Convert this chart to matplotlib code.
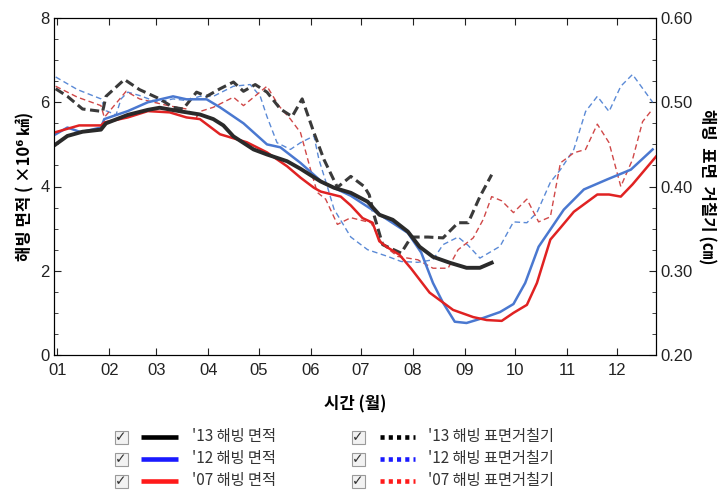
import matplotlib
matplotlib.use("Agg")
import matplotlib.pyplot as plt
from matplotlib.lines import Line2D
from matplotlib.patches import Rectangle
from matplotlib.ticker import MultipleLocator

plt.rcParams['font.family'] = ['Noto Sans CJK KR', 'DejaVu Sans']

# day of year of each month start, and its label
month_days = [1, 32, 60, 91, 121, 152, 182, 213, 244, 274, 305, 335]
month_labels = ['01', '02', '03', '04', '05', '06', '07', '08', '09', '10', '11', '12']

# sea ice area (x10^6 km2)
area13_day = [0, 7, 16, 27, 30, 43, 55, 62, 75, 86, 94, 100, 106, 118, 126, 138, 146,
              158, 166, 176, 186, 193, 201, 210, 217, 225, 235, 245, 253, 260]
area13_val = [5.0, 5.2, 5.3, 5.35, 5.5, 5.7, 5.82, 5.87, 5.78, 5.71, 5.6, 5.45, 5.19, 4.88,
              4.76, 4.6, 4.42, 4.12, 3.97, 3.85, 3.64, 3.33, 3.21, 2.93, 2.57, 2.33, 2.19,
              2.07, 2.07, 2.19]

area12_day = [0, 7, 15, 27, 29, 43, 55, 70, 78, 90, 98, 112, 126, 134, 146, 159, 176, 186,
              198, 210, 218, 225, 231, 238, 245, 255, 265, 273, 280, 288, 295, 303, 315, 329,
              343, 356]
area12_val = [5.24, 5.4, 5.29, 5.4, 5.6, 5.79, 6.0, 6.14, 6.07, 6.07, 5.88, 5.5, 5.0, 4.93,
              4.56, 4.1, 3.78, 3.52, 3.21, 2.9, 2.43, 1.71, 1.24, 0.79, 0.76, 0.88, 1.02, 1.21,
              1.71, 2.57, 2.98, 3.45, 3.93, 4.17, 4.4, 4.88]

area07_day = [0, 14, 27, 29, 43, 55, 68, 78, 86, 98, 114, 126, 138, 146, 154, 158, 170, 176,
              183, 189, 193, 198, 205, 212, 223, 237, 249, 257, 266, 273, 281, 287, 295, 301,
              309, 323, 330, 337, 344, 358]
area07_val = [5.29, 5.45, 5.45, 5.52, 5.64, 5.79, 5.76, 5.64, 5.6, 5.24, 5.05, 4.81, 4.48,
              4.21, 3.97, 3.88, 3.76, 3.55, 3.25, 3.14, 2.7, 2.55, 2.38, 2.05, 1.48, 1.07, 0.9,
              0.83, 0.81, 1.0, 1.19, 1.71, 2.74, 3.02, 3.4, 3.81, 3.81, 3.76, 4.05, 4.71]

# sea ice surface roughness (cm)
rough13_day = [0, 7, 16, 28, 30, 41, 50, 62, 70, 76, 84, 90, 98, 106, 112, 119, 126, 134,
               141, 147, 154, 160, 168, 176, 184, 187, 190, 195, 206, 212, 222, 231, 240, 246,
               253, 260]
rough13_val = [0.516, 0.507, 0.492, 0.489, 0.507, 0.527, 0.515, 0.504, 0.494, 0.492, 0.512,
               0.507, 0.516, 0.524, 0.513, 0.521, 0.512, 0.492, 0.483, 0.504, 0.464, 0.432,
               0.399, 0.412, 0.4, 0.39, 0.365, 0.331, 0.321, 0.34, 0.34, 0.339, 0.357, 0.357,
               0.388, 0.414]

rough12_day = [0, 13, 27, 30, 36, 39, 43, 50, 61, 70, 78, 86, 94, 106, 116, 122, 126, 132,
               140, 146, 154, 157, 162, 166, 176, 186, 198, 206, 216, 225, 231, 240, 246, 253,
               265, 273, 281, 287, 295, 301, 309, 316, 323, 330, 337, 344, 356]
rough12_val = [0.53, 0.515, 0.504, 0.49, 0.485, 0.504, 0.512, 0.508, 0.5, 0.504, 0.502,
               0.507, 0.507, 0.519, 0.521, 0.507, 0.483, 0.452, 0.444, 0.452, 0.46, 0.432,
               0.4, 0.373, 0.34, 0.325, 0.317, 0.311, 0.31, 0.313, 0.331, 0.34, 0.33, 0.315,
               0.329, 0.358, 0.357, 0.369, 0.405, 0.42, 0.444, 0.489, 0.507, 0.489, 0.519,
               0.533, 0.5]

rough07_day = [0, 13, 27, 29, 42, 50, 67, 78, 84, 86, 94, 106, 112, 126, 133, 140, 146, 152,
               156, 161, 168, 176, 188, 195, 204, 216, 225, 234, 240, 249, 255, 260, 266, 273,
               281, 288, 295, 301, 309, 316, 323, 330, 337, 344, 350, 356]
rough07_val = [0.519, 0.506, 0.496, 0.482, 0.513, 0.504, 0.496, 0.492, 0.482, 0.489, 0.494,
               0.506, 0.496, 0.519, 0.496, 0.48, 0.464, 0.42, 0.393, 0.385, 0.355, 0.363,
               0.357, 0.331, 0.317, 0.313, 0.303, 0.303, 0.325, 0.339, 0.361, 0.388, 0.383,
               0.369, 0.385, 0.358, 0.364, 0.428, 0.44, 0.444, 0.474, 0.452, 0.4, 0.432,
               0.477, 0.492]

fig = plt.figure(figsize=(7.2, 4.91), dpi=100)
ax = fig.add_axes([54/720, 1-355/491, (656-54)/720, (355-18)/491])
ax2 = ax.twinx()

ax2.plot(rough12_day, rough12_val, color='#5b8ad6', lw=1.0, dashes=(4, 2.5))
ax2.plot(rough07_day, rough07_val, color='#d04848', lw=1.0, dashes=(4, 2.5))
ax2.plot(rough13_day, rough13_val, color='#3a3a3a', lw=2.2, dashes=(3, 1.5))

ax.plot(area12_day, area12_val, color='#4a78d0', lw=1.8)
ax.plot(area07_day, area07_val, color='#e02222', lw=1.8)
ax.plot(area13_day, area13_val, color='#2a2a2a', lw=2.8)
ax.set_zorder(ax2.get_zorder() + 1)
ax.patch.set_visible(False)

ax.set_xlim(-1, 358)
ax.set_ylim(0, 8)
ax2.set_ylim(0.2, 0.6)
ax.set_xticks(month_days)
ax.set_xticklabels(month_labels)
ax.yaxis.set_major_locator(MultipleLocator(2))
ax.yaxis.set_minor_locator(MultipleLocator(0.5))
ax2.yaxis.set_major_locator(MultipleLocator(0.1))
ax2.yaxis.set_minor_locator(MultipleLocator(0.025))
ax2.set_yticklabels([f'{v:.2f}' for v in ax2.get_yticks()])

tick_font = ['Liberation Sans', 'DejaVu Sans']
for a in (ax, ax2):
    a.tick_params(which='both', direction='in', labelsize=12, colors='#222222')
    a.tick_params(which='major', length=5)
    a.tick_params(which='minor', length=3)
    for lab in a.get_xticklabels() + a.get_yticklabels():
        lab.set_family(tick_font)
ax.tick_params(axis='x', top=True, pad=6)
ax.tick_params(axis='y', pad=3)

ax.set_ylabel('해빙 면적 ( ×10⁶ ㎢)', fontsize=12, fontweight='bold', labelpad=4)
ax2.set_ylabel('해빙  표면  거칠기 (㎝)', fontsize=12, fontweight='bold', rotation=270,
               labelpad=16)
ax.set_xlabel('시간 (월)', fontsize=12, fontweight='bold', labelpad=12)

# legend with check boxes
leg = fig.add_axes([0, 0, 1, 1])
leg.set_xlim(0, 720)
leg.set_ylim(491, 0)
leg.axis('off')
rows_y = [437, 459, 481]
area_names = ["'13 해빙 면적", "'12 해빙 면적", "'07 해빙 면적"]
rough_names = ["'13 해빙 표면거칠기", "'12 해빙 표면거칠기", "'07 해빙 표면거칠기"]
leg_colors = ['#000000', '#1a1aff', '#ff1a1a']
for i, y in enumerate(rows_y):
    for cx, x0, x1, tx, names, style in [(121, 141, 178, 192, area_names, '-'),
                                         (358, 380, 415, 428, rough_names, (0, (0.9, 0.9)))]:
        leg.add_patch(Rectangle((cx - 6.5, y - 6.5), 13, 13, facecolor='#f2f2f2',
                                edgecolor='#9a9a9a', lw=0.8))
        leg.text(cx, y + 0.5, '✓', ha='center', va='center', fontsize=10, color='#333333',
                 family=['DejaVu Sans'])
        leg.add_line(Line2D([x0, x1], [y, y], color=leg_colors[i], lw=3.3, ls=style,
                            solid_capstyle='butt', dash_capstyle='butt'))
        leg.text(tx, y, names[i], ha='left', va='center', fontsize=11, color='#333333')

fig.savefig('out.png', dpi=100)
